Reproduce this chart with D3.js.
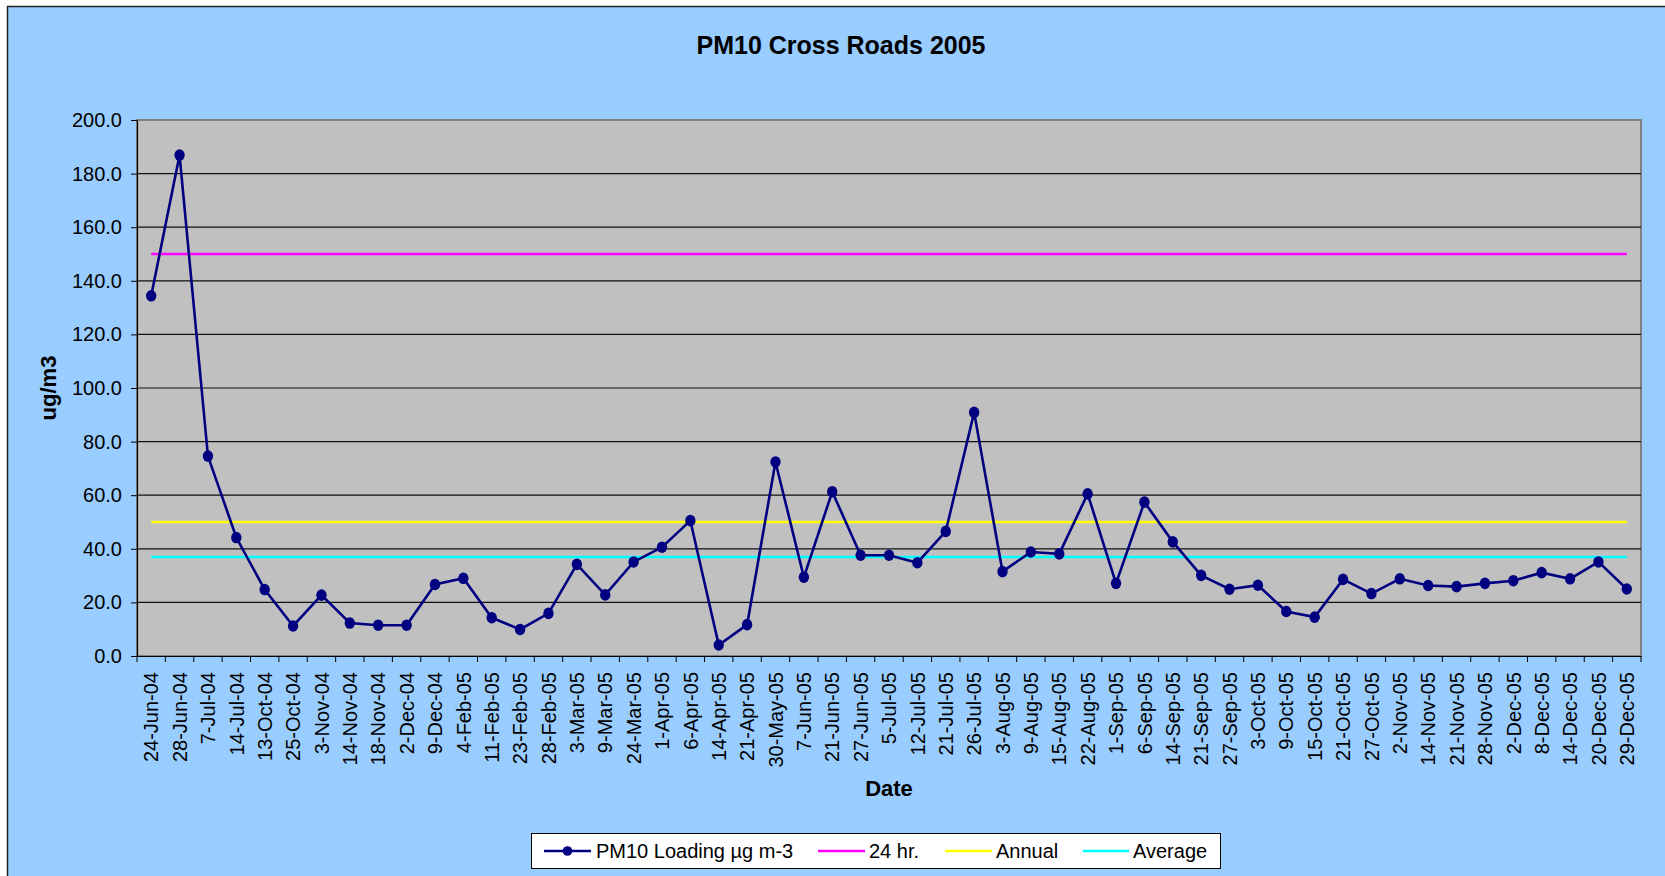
<!DOCTYPE html>
<html>
<head>
<meta charset="utf-8">
<script src="https://cdn.jsdelivr.net/npm/d3@7"></script>
<style>
    body { margin: 0; background: #ffffff; }
    svg { display: block; font-family: 'Liberation Sans', Arial, sans-serif; }
</style>
</head>
<body>
<div id="chart"></div>
<script>
// dates on the category axis
const dates = [
    '24-Jun-04', '28-Jun-04', '7-Jul-04', '14-Jul-04', '13-Oct-04', '25-Oct-04', '3-Nov-04', '14-Nov-04',
    '18-Nov-04', '2-Dec-04', '9-Dec-04', '4-Feb-05', '11-Feb-05', '23-Feb-05', '28-Feb-05', '3-Mar-05',
    '9-Mar-05', '24-Mar-05', '1-Apr-05', '6-Apr-05', '14-Apr-05', '21-Apr-05', '30-May-05', '7-Jun-05',
    '21-Jun-05', '27-Jun-05', '5-Jul-05', '12-Jul-05', '21-Jul-05', '26-Jul-05', '3-Aug-05', '9-Aug-05',
    '15-Aug-05', '22-Aug-05', '1-Sep-05', '6-Sep-05', '14-Sep-05', '21-Sep-05', '27-Sep-05', '3-Oct-05',
    '9-Oct-05', '15-Oct-05', '21-Oct-05', '27-Oct-05', '2-Nov-05', '14-Nov-05', '21-Nov-05', '28-Nov-05',
    '2-Dec-05', '8-Dec-05', '14-Dec-05', '20-Dec-05', '29-Dec-05'
];

// PM10 loading, ug m-3
const pm10 = [
    134.4, 186.9, 74.6, 44.2, 24.8, 11.2, 22.7, 12.3, 11.5, 11.5, 26.7, 29.0, 14.3, 9.9, 15.9, 34.2,
    22.8, 35.1, 40.6, 50.5, 4.1, 11.7, 72.4, 29.4, 61.3, 37.6, 37.6, 34.8, 46.5, 90.9, 31.5, 38.8,
    38.1, 60.5, 27.1, 57.4, 42.6, 30.1, 24.9, 26.4, 16.6, 14.5, 28.6, 23.3, 28.8, 26.3, 25.9, 27.1,
    28.1, 31.1, 28.8, 35.1, 25.0
];

// flat reference lines
const refNames = ['24 hr.', 'Annual', 'Average'];
const refValues = [150, 50, 36.9];
const refColors = ['#ff00ff', '#ffff00', '#00ffff'];

const yTicks = [0, 20, 40, 60, 80, 100, 120, 140, 160, 180, 200];

const W = 1665, H = 876;
const plotLeft = 137, plotRight = 1641, plotTop = 120, plotBottom = 656;

var svg = d3.select('#chart')
    .append('svg')
    .attr('width', W)
    .attr('height', H);

// chart area
svg.append('rect')
    .attr('x', 7.5).attr('y', 6.5)
    .attr('width', W).attr('height', H)
    .attr('fill', '#99ccff')
    .attr('stroke', '#222')
    .attr('stroke-width', 1.5);

var x = d3.scaleBand().domain(dates).range([plotLeft, plotRight]);
var y = d3.scaleLinear().domain([0, 200]).range([plotBottom, plotTop]);

// plot area
svg.append('rect')
    .attr('x', plotLeft).attr('y', plotTop)
    .attr('width', plotRight - plotLeft).attr('height', plotBottom - plotTop)
    .attr('fill', '#c0c0c0')
    .attr('stroke', '#808080')
    .attr('stroke-width', 2);

svg.append('g')
    .selectAll('line')
    .data(yTicks.slice(1, -1))
    .enter()
    .append('line')
    .attr('x1', plotLeft).attr('x2', plotRight)
    .attr('y1', d => y(d)).attr('y2', d => y(d))
    .attr('stroke', '#111')
    .attr('stroke-width', 1.2);

// y axis
var yAxis = svg.append('g')
    .attr('transform', `translate(${plotLeft},0)`)
    .call(d3.axisLeft(y).tickValues(yTicks).tickFormat(d3.format('.1f')).tickSize(6).tickPadding(9).tickSizeOuter(0));
yAxis.selectAll('text').attr('font-size', 20).attr('fill', '#000').attr('font-family', 'Liberation Sans, Arial, sans-serif');
yAxis.selectAll('line').attr('stroke', '#000');
yAxis.select('.domain').attr('stroke', '#000').attr('stroke-width', 1.2);

// x axis, labels at category centres, ticks between categories
var xAxis = svg.append('g')
    .attr('transform', `translate(0,${plotBottom})`)
    .call(d3.axisBottom(x).tickSize(0).tickSizeOuter(0));
xAxis.select('.domain').attr('stroke', '#000').attr('stroke-width', 1.2);
xAxis.selectAll('text')
    .attr('transform', 'rotate(-90)')
    .attr('x', -16)
    .attr('y', 0)
    .attr('dy', '0.36em')
    .style('text-anchor', 'end')
    .attr('font-size', 20)
    .attr('fill', '#000')
    .attr('font-family', 'Liberation Sans, Arial, sans-serif');

svg.append('g')
    .selectAll('line')
    .data(d3.range(dates.length + 1))
    .enter()
    .append('line')
    .attr('x1', i => plotLeft + i * x.step()).attr('x2', i => plotLeft + i * x.step())
    .attr('y1', plotBottom).attr('y2', plotBottom + 6)
    .attr('stroke', '#000');

// reference lines from first to last category
var first = x(dates[0]) + x.bandwidth() / 2;
var last = x(dates[dates.length - 1]) + x.bandwidth() / 2;
refValues.forEach((v, i) => {
    svg.append('line')
        .attr('x1', first).attr('x2', last)
        .attr('y1', y(v)).attr('y2', y(v))
        .attr('stroke', refColors[i])
        .attr('stroke-width', 2.5);
});

// PM10 series
var line = d3.line()
    .x((d, i) => x(dates[i]) + x.bandwidth() / 2)
    .y(d => y(d));

svg.append('path')
    .datum(pm10)
    .attr('d', line)
    .attr('fill', 'none')
    .attr('stroke', '#000080')
    .attr('stroke-width', 2.6);

svg.selectAll('.pt')
    .data(pm10)
    .enter()
    .append('ellipse')
    .attr('class', 'pt')
    .attr('cx', (d, i) => x(dates[i]) + x.bandwidth() / 2)
    .attr('cy', d => y(d))
    .attr('rx', 5.2)
    .attr('ry', 5.8)
    .attr('fill', '#000080');

// titles
svg.append('text')
    .attr('x', 841).attr('y', 54)
    .attr('text-anchor', 'middle')
    .attr('font-size', 25)
    .attr('font-weight', 'bold')
    .text('PM10 Cross Roads 2005');

svg.append('text')
    .attr('x', (plotLeft + plotRight) / 2).attr('y', 796)
    .attr('text-anchor', 'middle')
    .attr('font-size', 22)
    .attr('font-weight', 'bold')
    .text('Date');

svg.append('text')
    .attr('transform', `translate(56,${(plotTop + plotBottom) / 2}) rotate(-90)`)
    .attr('text-anchor', 'middle')
    .attr('font-size', 22)
    .attr('font-weight', 'bold')
    .text('ug/m3');

// legend
var lg = svg.append('g');
lg.append('rect')
    .attr('x', 531.5).attr('y', 833.5)
    .attr('width', 689).attr('height', 35)
    .attr('fill', '#fff')
    .attr('stroke', '#000');

var legendItems = [
    { name: 'PM10 Loading \u00b5g m-3', color: '#000080', x1: 544, x2: 591, tx: 596, dot: true },
    { name: refNames[0], color: refColors[0], x1: 818, x2: 865, tx: 869 },
    { name: refNames[1], color: refColors[1], x1: 945, x2: 992, tx: 996 },
    { name: refNames[2], color: refColors[2], x1: 1083, x2: 1129, tx: 1133 }
];
legendItems.forEach(item => {
    lg.append('line')
        .attr('x1', item.x1).attr('x2', item.x2)
        .attr('y1', 851).attr('y2', 851)
        .attr('stroke', item.color)
        .attr('stroke-width', 2.5);
    if (item.dot) {
        lg.append('circle')
            .attr('cx', (item.x1 + item.x2) / 2).attr('cy', 851)
            .attr('r', 4.8)
            .attr('fill', item.color);
    }
    lg.append('text')
        .attr('x', item.tx).attr('y', 858)
        .attr('font-size', 20)
        .text(item.name);
});
</script>
</body>
</html>
